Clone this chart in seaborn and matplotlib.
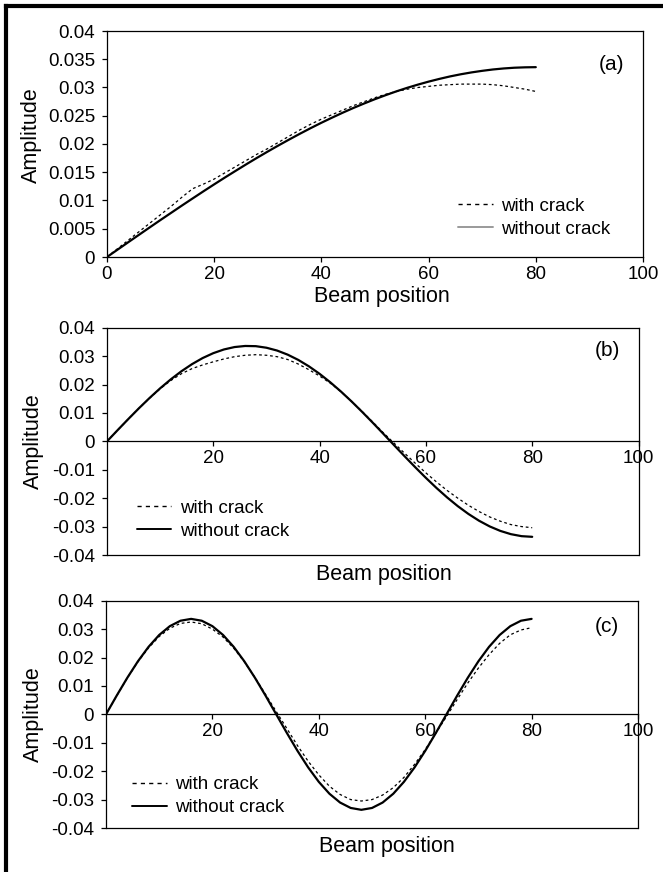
import matplotlib
matplotlib.use("Agg")
import matplotlib.pyplot as plt
from matplotlib.lines import Line2D
from matplotlib.ticker import FuncFormatter
import seaborn as sns

# Beam positions at which the mode shapes were sampled
position = list(range(0, 81, 2))

# Mode 1
mode1_intact = [0.0, 0.00132, 0.00264, 0.00395, 0.00526, 0.00656, 0.00784, 0.00912,
                0.01038, 0.01163, 0.01286, 0.01407, 0.01525, 0.01642, 0.01756, 0.01867,
                0.01975, 0.02080, 0.02182, 0.02281, 0.02376, 0.02467, 0.02555, 0.02639,
                0.02718, 0.02794, 0.02865, 0.02932, 0.02994, 0.03051, 0.03104, 0.03152,
                0.03196, 0.03234, 0.03267, 0.03295, 0.03319, 0.03337, 0.03350, 0.03357,
                0.03360]
mode1_cracked = [0.0, 0.0015, 0.0030, 0.0045, 0.0060, 0.0075, 0.0090, 0.0106,
                 0.0121, 0.0129, 0.0138, 0.0149, 0.0160, 0.0171, 0.0182, 0.0192,
                 0.0203, 0.0214, 0.0225, 0.0235, 0.0244, 0.0252, 0.0260, 0.0268,
                 0.0275, 0.0282, 0.0288, 0.0293, 0.0297, 0.0300, 0.0302, 0.0304,
                 0.0305, 0.0306, 0.0306, 0.0306, 0.0305, 0.0303, 0.0300, 0.0297,
                 0.0293]

# Mode 2
mode2_intact = [0.0, 0.00395, 0.00784, 0.01163, 0.01525, 0.01867, 0.02182, 0.02467,
                0.02718, 0.02932, 0.03104, 0.03234, 0.03319, 0.03357, 0.03350, 0.03295,
                0.03196, 0.03051, 0.02865, 0.02639, 0.02376, 0.02080, 0.01756, 0.01407,
                0.01038, 0.00656, 0.00264, -0.00132, -0.00526, -0.00912, -0.01286, -0.01642,
                -0.01975, -0.02281, -0.02555, -0.02794, -0.02994, -0.03152, -0.03267, -0.03337,
                -0.03360]
mode2_cracked = [0.0, 0.0040, 0.0078, 0.0116, 0.0152, 0.0185, 0.0214, 0.0238,
                 0.0256, 0.0269, 0.0280, 0.0290, 0.0298, 0.0303, 0.0305, 0.0303,
                 0.0298, 0.0288, 0.0272, 0.0252, 0.0230, 0.0205, 0.0175, 0.0141,
                 0.0105, 0.0068, 0.0030, -0.0006, -0.0042, -0.0077, -0.0111, -0.0143,
                 -0.0173, -0.0200, -0.0225, -0.0247, -0.0266, -0.0281, -0.0293, -0.0300,
                 -0.0304]

# Mode 3
mode3_intact = [0.0, 0.00656, 0.01286, 0.01867, 0.02376, 0.02794, 0.03104, 0.03295,
                0.03360, 0.03295, 0.03104, 0.02794, 0.02376, 0.01867, 0.01286, 0.00656,
                0.0, -0.00656, -0.01286, -0.01867, -0.02376, -0.02794, -0.03104, -0.03295,
                -0.03360, -0.03295, -0.03104, -0.02794, -0.02376, -0.01867, -0.01286, -0.00656,
                0.0, 0.00656, 0.01286, 0.01867, 0.02376, 0.02794, 0.03104, 0.03295,
                0.03360]
mode3_cracked = [0.0, 0.0065, 0.0128, 0.0185, 0.0234, 0.0274, 0.0303, 0.0320,
                 0.0325, 0.0319, 0.0300, 0.0272, 0.0233, 0.0185, 0.0130, 0.0070,
                 0.0010, -0.0050, -0.0110, -0.0165, -0.0213, -0.0253, -0.0282, -0.0300,
                 -0.0305, -0.0300, -0.0284, -0.0258, -0.0222, -0.0176, -0.0124, -0.0066,
                 -0.0008, 0.0052, 0.0110, 0.0163, 0.0210, 0.0250, 0.0280, 0.0297,
                 0.0305]

series_labels = ["with crack", "without crack"]
panel_tags = ["(a)", "(b)", "(c)"]

sns.set_theme(style="ticks")
plt.rcParams["font.family"] = ["Liberation Sans", "DejaVu Sans"]
plt.rcParams["axes.unicode_minus"] = False
plt.rcParams["text.color"] = "black"
plt.rcParams["axes.labelcolor"] = "black"
plt.rcParams["axes.edgecolor"] = "black"
plt.rcParams["axes.linewidth"] = 0.9
plt.rcParams["xtick.color"] = "black"
plt.rcParams["ytick.color"] = "black"
plt.rcParams["xtick.labelcolor"] = "black"
plt.rcParams["ytick.labelcolor"] = "black"
plt.rcParams["xtick.major.size"] = 3.5
plt.rcParams["ytick.major.size"] = 3.5
plt.rcParams["xtick.major.width"] = 0.9
plt.rcParams["ytick.major.width"] = 0.9

TICK_FS = 13.5
LABEL_FS = 15.5
LEGEND_FS = 13.5
TAG_FS = 15

W, H = 663, 872
fig = plt.figure(figsize=(W / 100, H / 100), dpi=100)


def px_axes(left, right, top, bottom):
    return fig.add_axes([left / W, 1 - bottom / H, (right - left) / W, (bottom - top) / H])


fmt = FuncFormatter(lambda v, _: f"{round(v, 4) + 0:g}")

dash_style = (0, (2.2, 2.2))


def draw_pair(ax, intact, cracked):
    sns.lineplot(x=position, y=cracked, ax=ax, color="black", lw=0.9,
                 linestyle=dash_style, errorbar=None, sort=False)
    sns.lineplot(x=position, y=intact, ax=ax, color="black", lw=1.6,
                 errorbar=None, sort=False)


def add_legend(ax, anchor, solid_color):
    handles = [
        Line2D([], [], color="black", lw=1.0, linestyle=(0, (3, 3))),
        Line2D([], [], color=solid_color, lw=1.4),
    ]
    ax.legend(handles, series_labels, loc="upper left", bbox_to_anchor=anchor,
              frameon=False, fontsize=LEGEND_FS, handlelength=1.85,
              handletextpad=0.45, labelspacing=0.32, borderpad=0,
              borderaxespad=0)


# ---- (a) first mode ----
ax_a = px_axes(107, 643, 31, 257)
draw_pair(ax_a, mode1_intact, mode1_cracked)
ax_a.set_xlim(0, 100)
ax_a.set_ylim(0, 0.04)
ax_a.set_xticks([0, 20, 40, 60, 80, 100])
ax_a.set_yticks([0, 0.005, 0.01, 0.015, 0.02, 0.025, 0.03, 0.035, 0.04])
ax_a.yaxis.set_major_formatter(fmt)
add_legend(ax_a, (0.655, 0.262), "#9a9a9a")

# ---- (b) second mode, (c) third mode ----
ax_b = px_axes(107, 638.5, 327.7, 555)
draw_pair(ax_b, mode2_intact, mode2_cracked)
add_legend(ax_b, (0.056, 0.243), "black")

ax_c = px_axes(106, 638, 600.7, 828)
draw_pair(ax_c, mode3_intact, mode3_cracked)
add_legend(ax_c, (0.049, 0.228), "black")

for ax in (ax_b, ax_c):
    ax.set_xlim(0, 100)
    ax.set_ylim(-0.04, 0.04)
    ax.set_xticks([20, 40, 60, 80, 100])
    ax.set_yticks([-0.04, -0.03, -0.02, -0.01, 0, 0.01, 0.02, 0.03, 0.04])
    ax.yaxis.set_major_formatter(fmt)
    # x axis runs along the zero line; keep the lower frame edge
    ax.spines["bottom"].set_position(("data", 0))
    ax.plot([0, 1], [0, 0], transform=ax.transAxes, color="black", lw=0.9,
            clip_on=False)

label_pos = {ax_a: (0.512, -0.128, -0.121, 0.54),
             ax_b: (0.52, -0.038, -0.118, 0.5),
             ax_c: (0.528, -0.036, -0.116, 0.5)}
tag_pos = {ax_a: 0.85, ax_b: 0.90, ax_c: 0.885}

for ax, tag in zip((ax_a, ax_b, ax_c), panel_tags):
    ax.tick_params(axis="x", labelsize=TICK_FS, pad=3, direction="out")
    ax.tick_params(axis="y", labelsize=TICK_FS, pad=5, direction="out")
    ax.set_xlabel("Beam position", fontsize=LABEL_FS)
    ax.set_ylabel("Amplitude", fontsize=LABEL_FS)
    xl, yl, xa, ya = label_pos[ax]
    ax.xaxis.set_label_coords(xl, yl)
    ax.yaxis.set_label_coords(xa, ya)
    ax.text(0.942, tag_pos[ax], tag, transform=ax.transAxes, fontsize=TAG_FS,
            ha="center", va="center")

# heavy frame lines along the left and top edges of the figure
fig.add_artist(Line2D([6 / W, 6 / W], [0, 1 - 6.5 / H], transform=fig.transFigure,
                      color="black", lw=3.0, solid_capstyle="projecting"))
fig.add_artist(Line2D([6 / W, 1], [1 - 6.5 / H, 1 - 6.5 / H], transform=fig.transFigure,
                      color="black", lw=3.0, solid_capstyle="projecting"))

fig.savefig("out.png", dpi=100)
